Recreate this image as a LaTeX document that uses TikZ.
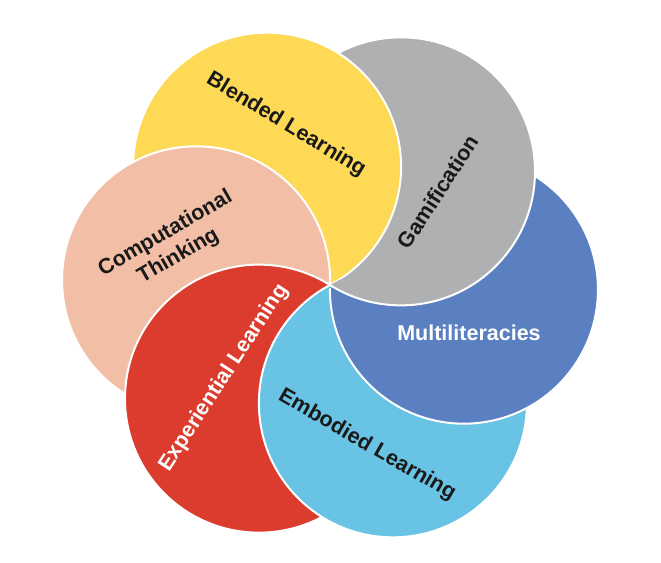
\documentclass[tikz,border=0pt]{standalone}
\usepackage{fontspec}
\setmainfont{Liberation Sans}
\usetikzlibrary{positioning}
\definecolor{multiblue}{RGB}{91,128,193}
\definecolor{gamigray}{RGB}{175,176,178}
\definecolor{blendyellow}{RGB}{254,217,85}
\definecolor{comppeach}{RGB}{242,191,166}
\definecolor{expred}{RGB}{220,60,45}
\definecolor{embcyan}{RGB}{104,195,228}

\begin{document}
\begin{tikzpicture}[x=1pt,y=1pt,
  petal/.style={draw=white,line width=2pt},
  petaltext/.style={font=\fontsize{21.5}{26}\selectfont\bfseries,align=center,text=black!90}]
\useasboundingbox (-330,-277) rectangle (331,285);
\coordinate (hub) at (0,0);
% six petals, each one lies over the one before
\path[petal,fill=multiblue] (-2:134) circle[radius=134pt];
\path[petal,fill=gamigray] (58:134) circle[radius=134pt];
\path[petal,fill=blendyellow] (118:134) circle[radius=134pt];
\path[petal,fill=comppeach] (178:134) circle[radius=134pt];
\path[petal,fill=expred] (238:134) circle[radius=134pt];
\path[petal,fill=embcyan] (298:134) circle[radius=134pt];
% close the ring: blue and gray over cyan
\begin{scope}
\clip[rotate=28] (-600,-3) rectangle (600,-600);
\path[petal,fill=multiblue] (-2:134) circle[radius=134pt];
\end{scope}
\begin{scope}
\clip[rotate=28] (-600,0) rectangle (600,-600);
\path[petal,fill=gamigray] (58:134) circle[radius=134pt];
\end{scope}
\node (blended) [petaltext,rotate=-31] at (-44,160) {Blended Learning};
\node (gami) [petaltext,rotate=57] at (108,93) {Gamification};
\node (comp) [petaltext,rotate=30] at (-158,40) {Computational\\Thinking};
\node (multi) [petaltext,text=white] at (139,-48) {Multiliteracies};
\node (exper) [petaltext,text=white,rotate=57] at (-106,-93) {Experiential Learning};
\node (embod) [petaltext,rotate=-30] at (37,-160) {Embodied Learning};
\end{tikzpicture}
\end{document}
